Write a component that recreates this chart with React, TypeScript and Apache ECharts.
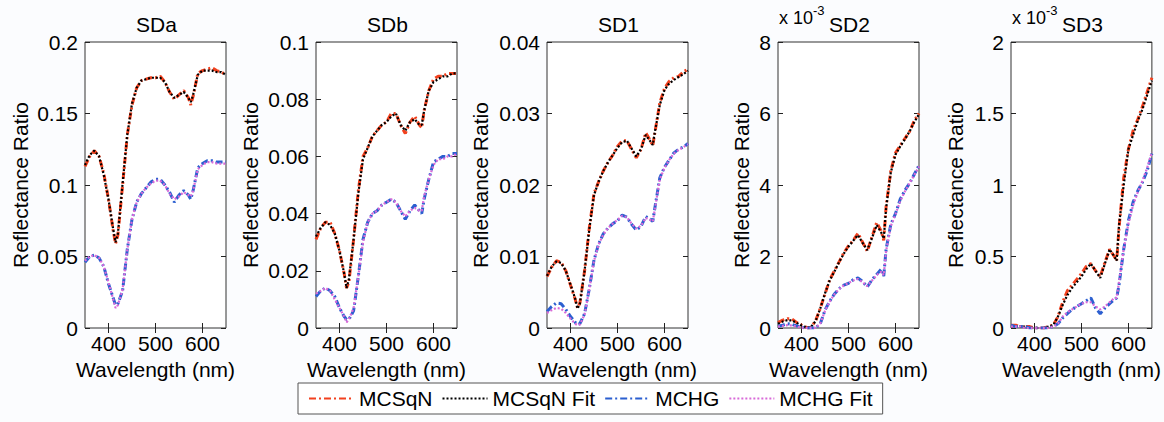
import React, { useEffect, useRef } from "react";
import * as echarts from "echarts";

// ---------- data ----------
const wavelengths = [350, 360, 370, 380, 390, 400, 410, 415, 420, 430, 440, 450, 460, 470, 480, 490, 500, 510, 520, 530, 540, 550, 560, 570, 575, 580, 590, 600, 610, 620, 630, 640, 650];
const xTicks = [400, 500, 600];
const seriesNames = ["MCSqN", "MCSqN Fit", "MCHG", "MCHG Fit"];
const panelTitles = ["SDa", "SDb", "SD1", "SD2", "SD3"];
const yMax = [0.2, 0.1, 0.04, 8, 2];
const yStep = [0.05, 0.02, 0.01, 2, 0.5];

// SDa
const sdaMCSqN = [0.113, 0.120, 0.124, 0.120, 0.108, 0.090, 0.068, 0.059, 0.065, 0.100, 0.135, 0.156, 0.168, 0.173, 0.174, 0.175, 0.175, 0.176, 0.172, 0.165, 0.160, 0.163, 0.166, 0.161, 0.156, 0.162, 0.178, 0.180, 0.181, 0.182, 0.180, 0.179, 0.177];
const sdaMCSqNFit = [0.114, 0.121, 0.124, 0.120, 0.107, 0.090, 0.069, 0.060, 0.066, 0.101, 0.135, 0.157, 0.168, 0.173, 0.174, 0.175, 0.175, 0.175, 0.172, 0.165, 0.161, 0.163, 0.165, 0.161, 0.158, 0.163, 0.177, 0.180, 0.180, 0.180, 0.179, 0.179, 0.177];
const sdaMCHG = [0.046, 0.050, 0.051, 0.049, 0.043, 0.031, 0.021, 0.016, 0.017, 0.026, 0.055, 0.076, 0.088, 0.094, 0.098, 0.102, 0.104, 0.104, 0.100, 0.095, 0.088, 0.093, 0.096, 0.093, 0.090, 0.096, 0.112, 0.115, 0.117, 0.117, 0.116, 0.116, 0.116];
const sdaMCHGFit = [0.047, 0.050, 0.051, 0.049, 0.043, 0.032, 0.020, 0.014, 0.016, 0.027, 0.055, 0.076, 0.088, 0.094, 0.098, 0.101, 0.103, 0.103, 0.100, 0.094, 0.090, 0.092, 0.095, 0.093, 0.092, 0.096, 0.111, 0.114, 0.116, 0.116, 0.115, 0.115, 0.115];

// SDb
const sdbMCSqN = [0.031, 0.035, 0.037, 0.037, 0.033, 0.027, 0.019, 0.014, 0.016, 0.031, 0.048, 0.060, 0.063, 0.067, 0.069, 0.071, 0.072, 0.075, 0.075, 0.071, 0.068, 0.072, 0.074, 0.071, 0.070, 0.076, 0.083, 0.087, 0.088, 0.088, 0.089, 0.089, 0.089];
const sdbMCSqNFit = [0.032, 0.035, 0.037, 0.036, 0.033, 0.027, 0.019, 0.014, 0.017, 0.031, 0.047, 0.059, 0.063, 0.067, 0.069, 0.071, 0.072, 0.074, 0.075, 0.071, 0.069, 0.072, 0.073, 0.071, 0.071, 0.076, 0.083, 0.086, 0.087, 0.088, 0.088, 0.089, 0.089];
const sdbMCHG = [0.011, 0.013, 0.014, 0.013, 0.011, 0.007, 0.004, 0.003, 0.003, 0.006, 0.018, 0.031, 0.037, 0.040, 0.041, 0.043, 0.044, 0.045, 0.044, 0.041, 0.038, 0.041, 0.043, 0.041, 0.040, 0.045, 0.052, 0.058, 0.059, 0.060, 0.060, 0.061, 0.061];
const sdbMCHGFit = [0.012, 0.013, 0.014, 0.013, 0.010, 0.007, 0.004, 0.002, 0.003, 0.007, 0.018, 0.030, 0.037, 0.040, 0.041, 0.043, 0.044, 0.045, 0.044, 0.041, 0.039, 0.041, 0.042, 0.041, 0.041, 0.046, 0.052, 0.057, 0.059, 0.059, 0.060, 0.060, 0.061];

// SD1
const sd1MCSqN = [0.0072, 0.0085, 0.0094, 0.0092, 0.0080, 0.0060, 0.0040, 0.0028, 0.0035, 0.0080, 0.0140, 0.0188, 0.0205, 0.0220, 0.0232, 0.0242, 0.0254, 0.0262, 0.0262, 0.0250, 0.0238, 0.0250, 0.0273, 0.0262, 0.0255, 0.0275, 0.0315, 0.0335, 0.0345, 0.0350, 0.0352, 0.0358, 0.0362];
const sd1MCSqNFit = [0.0073, 0.0086, 0.0093, 0.0091, 0.0080, 0.0061, 0.0041, 0.0027, 0.0034, 0.0080, 0.0138, 0.0186, 0.0205, 0.0220, 0.0232, 0.0242, 0.0252, 0.0260, 0.0262, 0.0251, 0.0240, 0.0250, 0.0270, 0.0261, 0.0256, 0.0276, 0.0312, 0.0333, 0.0342, 0.0347, 0.0351, 0.0355, 0.0360];
const sd1MCHG = [0.0023, 0.0030, 0.0035, 0.0034, 0.0026, 0.0016, 0.0008, 0.0005, 0.0006, 0.0020, 0.0055, 0.0095, 0.0118, 0.0132, 0.0140, 0.0146, 0.0150, 0.0158, 0.0155, 0.0145, 0.0137, 0.0142, 0.0156, 0.0152, 0.0149, 0.0170, 0.0210, 0.0225, 0.0235, 0.0245, 0.0250, 0.0253, 0.0258];
const sd1MCHGFit = [0.0021, 0.0025, 0.0028, 0.0027, 0.0021, 0.0013, 0.0006, 0.0004, 0.0005, 0.0019, 0.0054, 0.0094, 0.0117, 0.0131, 0.0140, 0.0146, 0.0151, 0.0157, 0.0155, 0.0146, 0.0139, 0.0143, 0.0154, 0.0151, 0.0149, 0.0168, 0.0208, 0.0224, 0.0235, 0.0244, 0.0249, 0.0253, 0.0257];

// SD2 (x 10^-3)
const sd2MCSqN = [0.15, 0.22, 0.26, 0.25, 0.15, 0.08, 0.02, 0.00, 0.02, 0.20, 0.55, 0.95, 1.35, 1.60, 1.85, 2.10, 2.30, 2.45, 2.65, 2.40, 2.15, 2.55, 2.95, 2.70, 2.45, 3.40, 4.40, 4.90, 5.10, 5.30, 5.50, 5.80, 6.00];
const sd2MCSqNFit = [0.12, 0.18, 0.22, 0.21, 0.14, 0.07, 0.02, 0.01, 0.03, 0.19, 0.55, 0.97, 1.33, 1.58, 1.84, 2.08, 2.28, 2.44, 2.60, 2.38, 2.18, 2.52, 2.88, 2.66, 2.50, 3.35, 4.35, 4.85, 5.08, 5.28, 5.50, 5.76, 5.98];
const sd2MCHG = [0.05, 0.08, 0.12, 0.10, 0.06, 0.02, 0.00, 0.00, 0.00, 0.00, 0.12, 0.50, 0.75, 0.95, 1.10, 1.20, 1.25, 1.35, 1.40, 1.30, 1.15, 1.35, 1.50, 1.65, 1.45, 2.20, 2.90, 3.20, 3.60, 3.85, 4.05, 4.30, 4.55];
const sd2MCHGFit = [0.04, 0.06, 0.08, 0.07, 0.04, 0.01, 0.00, 0.00, 0.00, 0.01, 0.12, 0.48, 0.74, 0.94, 1.09, 1.19, 1.26, 1.33, 1.37, 1.28, 1.17, 1.33, 1.48, 1.58, 1.48, 2.15, 2.85, 3.18, 3.55, 3.82, 4.05, 4.28, 4.52];

// SD3 (x 10^-3)
const sd3MCSqN = [0.02, 0.02, 0.01, 0.01, 0.01, 0.00, 0.00, 0.00, 0.00, 0.01, 0.02, 0.08, 0.18, 0.26, 0.30, 0.34, 0.38, 0.43, 0.45, 0.40, 0.36, 0.46, 0.55, 0.50, 0.47, 0.70, 1.05, 1.25, 1.38, 1.46, 1.55, 1.65, 1.75];
const sd3MCSqNFit = [0.01, 0.01, 0.01, 0.01, 0.00, 0.00, 0.00, 0.00, 0.00, 0.01, 0.02, 0.08, 0.16, 0.23, 0.28, 0.32, 0.36, 0.41, 0.45, 0.40, 0.35, 0.45, 0.55, 0.50, 0.47, 0.72, 1.00, 1.25, 1.35, 1.45, 1.53, 1.63, 1.73];
const sd3MCHG = [0.02, 0.01, 0.01, 0.01, 0.00, 0.00, 0.00, 0.00, 0.00, 0.00, 0.01, 0.03, 0.07, 0.10, 0.13, 0.15, 0.17, 0.19, 0.21, 0.14, 0.10, 0.14, 0.17, 0.20, 0.21, 0.30, 0.55, 0.75, 0.88, 0.96, 1.02, 1.10, 1.22];
const sd3MCHGFit = [0.01, 0.01, 0.01, 0.00, 0.00, 0.00, 0.00, 0.00, 0.00, 0.00, 0.01, 0.03, 0.08, 0.11, 0.13, 0.15, 0.17, 0.18, 0.18, 0.15, 0.13, 0.15, 0.18, 0.21, 0.21, 0.32, 0.55, 0.73, 0.86, 0.95, 1.03, 1.12, 1.23];

const panelData = [
  [sdaMCSqN, sdaMCSqNFit, sdaMCHG, sdaMCHGFit],
  [sdbMCSqN, sdbMCSqNFit, sdbMCHG, sdbMCHGFit],
  [sd1MCSqN, sd1MCSqNFit, sd1MCHG, sd1MCHGFit],
  [sd2MCSqN, sd2MCSqNFit, sd2MCHG, sd2MCHGFit],
  [sd3MCSqN, sd3MCSqNFit, sd3MCHG, sd3MCHGFit],
];

// ---------- layout / style ----------
const gridLefts = [85, 316, 547, 778, 1011];
const gridTop = 42;
const gridWidth = 141;
const gridHeight = 286;
const yNameGaps = [54, 55, 56, 26, 45];
const FONT = "Liberation Sans, Arial, Helvetica, sans-serif";
const seriesStyles = [
  { color: "#f2411e", type: [7, 3, 2, 3], width: 3 },
  { color: "#000000", type: [2, 2], width: 2.2 },
  { color: "#2b5fd0", type: [7, 3, 2, 3], width: 3 },
  { color: "#d86ad8", type: [2, 2], width: 2.2 },
];

export default function App() {
  const ref = useRef<HTMLDivElement>(null);
  useEffect(() => {
    if (!ref.current) return;
    const chart = echarts.init(ref.current, undefined, { renderer: "svg" });
    const tickStyle = { color: "#222", width: 1 };
    const grids: any[] = [];
    const xAxes: any[] = [];
    const yAxes: any[] = [];
    const series: any[] = [];
    const titles: any[] = [];
    panelTitles.forEach((t, i) => {
      grids.push({
        left: gridLefts[i], top: gridTop, width: gridWidth, height: gridHeight,
        show: true, borderColor: "#333", borderWidth: 1, backgroundColor: "#ffffff",
      });
      titles.push({
        text: t, left: gridLefts[i] + gridWidth / 2 - 4, top: 9, textAlign: "center",
        textStyle: { fontFamily: FONT, fontSize: 21, fontWeight: "normal", color: "#000" },
      });
      xAxes.push({
        gridIndex: i, type: "value", min: 350, max: 650, position: "bottom",
        axisLine: { show: false },
        axisTick: { inside: true, length: 5, customValues: xTicks, lineStyle: tickStyle },
        axisLabel: { customValues: xTicks, fontSize: 21, fontFamily: FONT, color: "#000", margin: 5 },
        splitLine: { show: false },
        name: "Wavelength (nm)", nameLocation: "middle", nameGap: 25,
        nameTextStyle: { fontSize: 21, fontFamily: FONT, color: "#000" },
      });
      xAxes.push({
        gridIndex: i, type: "value", min: 350, max: 650, position: "top",
        axisLine: { show: false },
        axisTick: { inside: true, length: 5, customValues: xTicks, lineStyle: tickStyle },
        axisLabel: { show: false }, splitLine: { show: false },
      });
      yAxes.push({
        gridIndex: i, type: "value", min: 0, max: yMax[i], interval: yStep[i], position: "left",
        axisLine: { show: false },
        axisTick: { inside: true, length: 5, lineStyle: tickStyle },
        axisLabel: { fontSize: 21, fontFamily: FONT, color: "#000", margin: 7 },
        splitLine: { show: false },
        name: "Reflectance Ratio", nameLocation: "middle", nameGap: yNameGaps[i], nameRotate: 90,
        nameTextStyle: { fontSize: 21, fontFamily: FONT, color: "#000" },
      });
      yAxes.push({
        gridIndex: i, type: "value", min: 0, max: yMax[i], interval: yStep[i], position: "right",
        axisLine: { show: false },
        axisTick: { inside: true, length: 5, lineStyle: tickStyle },
        axisLabel: { show: false }, splitLine: { show: false },
      });
      panelData[i].forEach((arr, s) => {
        const st = seriesStyles[s];
        series.push({
          name: seriesNames[s], type: "line", xAxisIndex: 2 * i, yAxisIndex: 2 * i,
          data: wavelengths.map((w, k) => [w, arr[k]]),
          symbol: "none", showSymbol: false, color: st.color,
          lineStyle: { color: st.color, type: st.type, width: st.width },
          z: 2 + s,
        });
      });
    });
    chart.setOption({
      animation: false,
      backgroundColor: "#fbfcfe",
      title: titles,
      grid: grids,
      xAxis: xAxes,
      yAxis: yAxes,
      series,
      legend: {
        data: seriesNames, left: 298, top: 383, orient: "horizontal",
        borderColor: "#555", borderWidth: 1, backgroundColor: "#ffffff",
        padding: [5, 10], itemWidth: 45, itemHeight: 14, itemGap: 9,
        itemStyle: { opacity: 0 },
        textStyle: { fontSize: 21, fontFamily: FONT, color: "#000" },
      },
      graphic: [
        { type: "text", left: 779, top: 9, style: { text: "x 10", fontSize: 18, fontFamily: FONT, fill: "#000" } },
        { type: "text", left: 813, top: 4, style: { text: "-3", fontSize: 13, fontFamily: FONT, fill: "#000" } },
        { type: "text", left: 1012, top: 9, style: { text: "x 10", fontSize: 18, fontFamily: FONT, fill: "#000" } },
        { type: "text", left: 1046, top: 4, style: { text: "-3", fontSize: 13, fontFamily: FONT, fill: "#000" } },
      ],
    });
    return () => chart.dispose();
  }, []);
  return <div ref={ref} style={{ position: "absolute", left: 0, top: 0, width: 1164, height: 422 }} />;
}
